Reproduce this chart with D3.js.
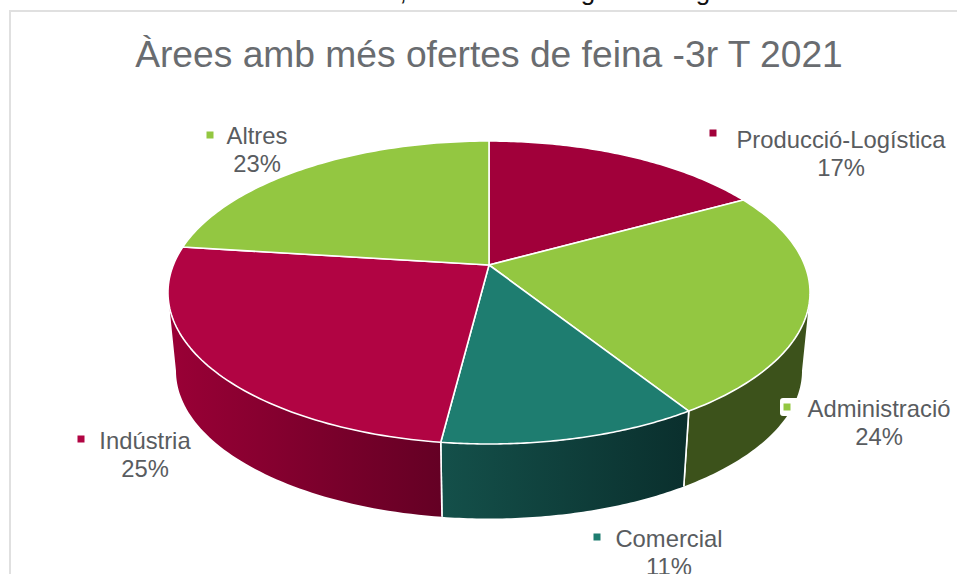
<!DOCTYPE html>
<html><head><meta charset="utf-8">
<script src="https://cdnjs.cloudflare.com/ajax/libs/d3/7.8.5/d3.min.js"></script>
<style>html,body{margin:0;padding:0;background:#fff;overflow:hidden}svg{display:block}text{font-family:"Liberation Sans",Arial,sans-serif}</style>
</head><body><svg id="c" width="957" height="574"></svg>
<script>
const titleText = "Àrees amb més ofertes de feina -3r T 2021";
const categories = ["Producció-Logística","Administració","Comercial","Indústria","Altres"];
const shares = [17,24,11,25,23];
const topColors = ["#a1003a","#93c741","#1e7d70","#b10443","#93c741"];
const sideStart = ["#7d002c","#3c521b","#14504a","#9a0036","#6f9a30"];
const sideEnd = ["#7d002c","#3c521b","#0a2f2d","#640024","#6f9a30"];

const svg = d3.select("#c");
const defs = svg.append("defs");

// perspective projection of the unit disc
const cx=489, A=315.7, B=146.5, k=0.1815;
const sx=d3.scaleLinear().domain([0,1]).range([cx,cx+A]);
const syTop=d3.scaleLinear().domain([0,1]).range([265,265+B]);
const lift=d3.scaleLinear().domain([0,1]).range([0,0.975]);
function proj(a,bottom){
  const x=Math.sin(a), y=-Math.cos(a), w=1-k*y;
  const X=x/w, Y=y/w;
  if(!bottom) return [sx(X),syTop(Y)];
  return [sx(lift(X)),syTop(lift(Y))+79];
}
const pie=d3.pie().sort(null).value(d=>d)(shares);
const line=d3.line();
const samples=(a0,a1,n=60)=>d3.range(n+1).map(i=>a0+(a1-a0)*i/n);

// frame
svg.append("path").attr("d","M10,574V11H957").attr("fill","none").attr("stroke","#e0e0e0").attr("stroke-width",2);

// clipped line of text above the chart
svg.selectAll("text.cut").data([[403,","],[588,"g"],[703,"g"]]).join("text").attr("class","cut")
  .attr("x",d=>d[0]).attr("y",0).attr("text-anchor","middle").attr("font-size",26).attr("fill","#111").text(d=>d[1]);

// side walls
const vis0=Math.acos(-k), vis1=2*Math.PI-vis0;
pie.forEach((s,i)=>{
  const a0=Math.max(s.startAngle,vis0), a1=Math.min(s.endAngle,vis1);
  if(a1<=a0) return;
  const t=samples(a0,a1), up=t.map(a=>proj(a,false)), dn=t.map(a=>proj(a,true)).reverse();
  const xs=up.map(p=>p[0]).concat(dn.map(p=>p[0])), id="g"+i;
  const g=defs.append("linearGradient").attr("id",id).attr("gradientUnits","userSpaceOnUse")
    .attr("x1",d3.min(xs)).attr("x2",d3.max(xs)).attr("y1",0).attr("y2",0);
  g.append("stop").attr("offset",0).attr("stop-color",sideStart[i]);
  g.append("stop").attr("offset",1).attr("stop-color",sideEnd[i]);
  svg.append("path").attr("d",line(up.concat(dn))+"Z").attr("fill",`url(#${id})`);
  // white separators where a slice boundary is on the visible wall
  [s.startAngle,s.endAngle].filter(a=>a>vis0&&a<vis1).forEach(a=>{
    svg.append("path").attr("d",line([proj(a,false),proj(a,true)])).attr("stroke","#fff").attr("stroke-width",1.6).attr("fill","none");
  });
});

// top slices
const apex=[cx,265];
svg.selectAll("path.top").data(pie).join("path").attr("class","top")
  .attr("d",s=>line([apex].concat(samples(s.startAngle,s.endAngle,80).map(a=>proj(a,false))))+"Z")
  .attr("fill",(s,i)=>topColors[i]).attr("stroke","#fff").attr("stroke-width",1.6).attr("stroke-linejoin","round");

// title
svg.append("text").attr("x",489).attr("y",67).attr("text-anchor","middle").attr("font-size",37.2).attr("fill","#696c70").text(titleText);

// labels: text centre, first baseline, swatch centre
const labelPos=[[841,148,713,133],[879,417,787,407],[669,547,597,537],[145,449,81,439],[257,144,210,135]];
const labelG=svg.selectAll("g.lab").data(categories).join("g").attr("class","lab");
labelG.filter((d,i)=>i===1).append("rect").attr("x",780).attr("y",398).attr("width",20).attr("height",18).attr("rx",3).attr("fill","#fff");
labelG.append("rect").attr("x",(d,i)=>labelPos[i][2]-3.5).attr("y",(d,i)=>labelPos[i][3]-3.5).attr("width",7).attr("height",7).attr("fill",(d,i)=>topColors[i]);
labelG.append("text").attr("x",(d,i)=>labelPos[i][0]).attr("y",(d,i)=>labelPos[i][1]).attr("text-anchor","middle").attr("font-size",23.8).attr("fill","#595c60").text(d=>d);
labelG.append("text").attr("x",(d,i)=>labelPos[i][0]).attr("y",(d,i)=>labelPos[i][1]+28).attr("text-anchor","middle").attr("font-size",23.8).attr("fill","#595c60").text((d,i)=>shares[i]+"%");
</script></body></html>
